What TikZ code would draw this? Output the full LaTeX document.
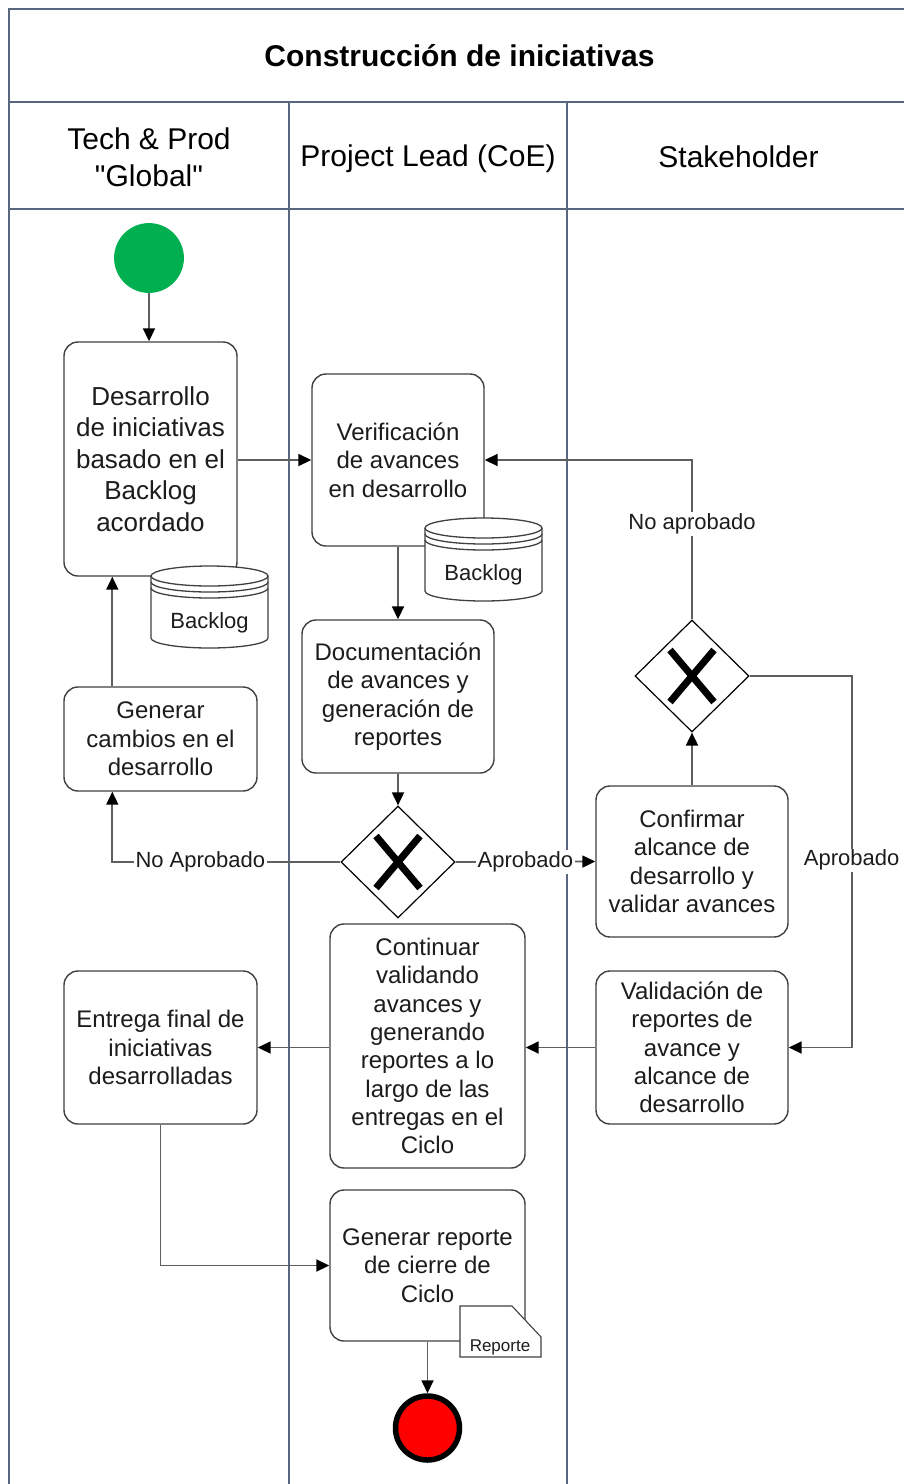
\documentclass[tikz,border=0pt]{standalone}
\usepackage{fontspec}
\setmainfont{Liberation Sans}[Ligatures=TeXOff]
\usetikzlibrary{arrows.meta,shapes.geometric,calc}

\definecolor{poolline}{RGB}{88,102,128}
\definecolor{boxline}{RGB}{64,64,64}
\definecolor{flowline}{RGB}{95,95,95}
\definecolor{txt}{RGB}{28,28,28}
\definecolor{startgreen}{RGB}{0,176,80}
\definecolor{endred}{RGB}{255,0,0}

% data store (cylinder with two extra rims): name, left, top, width, height
\newcommand\datastore[5]{%
  \draw[storeline, fill=white] (#2,#3+10) -- (#2,#3+#5-10)
    arc[start angle=180, end angle=0, x radius=#4/2, y radius=10] -- (#2+#4,#3+10);
  \draw[storeline, fill=white] (#2+#4/2,#3+10) ellipse[x radius=#4/2, y radius=10];
  \draw[storeline] (#2,#3+16) arc[start angle=180, end angle=0, x radius=#4/2, y radius=10];
  \draw[storeline] (#2,#3+22) arc[start angle=180, end angle=0, x radius=#4/2, y radius=10];
  \node[storetext] (#1) at (#2+#4/2,#3+57) {Backlog};
}

\begin{document}
\begin{tikzpicture}[x=1pt,y=-1pt,
  task/.style={draw=boxline, line width=1.4pt, rounded corners=14pt, fill=white,
    align=center, inner sep=0pt, text=txt, font=\fontsize{24}{28.3}\selectfont},
  gate/.style={diamond, draw=black, line width=1.2pt, fill=white, aspect=1,
    minimum width=114pt, minimum height=112pt, inner sep=0pt},
  xmark/.style={line width=7pt, draw=black},
  flow/.style={draw=flowline, line width=1.8pt,
    -{Triangle[length=13pt, width=12pt, color=black]}},
  lbl/.style={fill=white, inner sep=1.5pt, text=txt, font=\fontsize{22}{26}\selectfont},
  lane/.style={draw=poolline, line width=2pt},
  storeline/.style={draw=boxline, line width=1.3pt},
  storetext/.style={text=txt, font=\fontsize{22}{26}\selectfont},
  header/.style={text=black, align=center, font=\fontsize{30}{37}\selectfont},
]
\useasboundingbox (0,0) rectangle (904,1484);
\fill[white] (0,0) rectangle (904,1484);
\clip (0,0) rectangle (904,1484);

% pool and lanes
\draw[lane] (9,1490) -- (9,9) -- (915,9);
\draw[lane] (9,102) -- (915,102);
\draw[lane] (9,209) -- (915,209);
\draw[lane] (289,102) -- (289,1490);
\draw[lane] (567,102) -- (567,1490);

\node[text=black, font=\bfseries\fontsize{30}{36}\selectfont] (title) at (459.5,56) {Construcción de iniciativas};
\node[header] (hTech) at (149,157) {Tech \& Prod\\"Global"};
\node[header] (hLead) at (428,159) {Project Lead (CoE)};
\node[header] (hStake) at (738.5,157) {Stakeholder};

% events
\node[circle, fill=startgreen, draw=startgreen, line width=0.8pt, minimum size=69pt, inner sep=0pt] (start) at (149,258) {};
\node[circle, fill=endred, draw=black, line width=5.5pt, minimum size=64pt, inner sep=0pt] (end) at (427.5,1428) {};

% activities
\node[task, minimum width=173pt, minimum height=234pt, font=\fontsize{26}{31.5}\selectfont] (A) at (150.5,459)
  {Desarrollo\\de iniciativas\\basado en el\\Backlog\\acordado};
\node[task, minimum width=172pt, minimum height=172pt] (B) at (398,460)
  {Verificación\\de avances\\en desarrollo};
\node[task, minimum width=192pt, minimum height=153pt] (C) at (398,696.5)
  {Documentación\\de avances y\\generación de\\reportes};
\node[task, minimum width=193pt, minimum height=104pt] (D) at (160.5,739)
  {Generar\\cambios en el\\desarrollo};
\node[task, minimum width=192pt, minimum height=151pt] (E) at (692,861.5)
  {Confirmar\\alcance de\\desarrollo y\\validar avances};
\node[task, minimum width=192pt, minimum height=153pt] (F) at (692,1047.5)
  {Validación de\\reportes de\\avance y\\alcance de\\desarrollo};
\node[task, minimum width=195pt, minimum height=244pt] (H) at (427.5,1046)
  {Continuar\\validando\\avances y\\generando\\reportes a lo\\largo de las\\entregas en el\\Ciclo};
\node[task, minimum width=193pt, minimum height=153pt] (I) at (160.5,1047.5)
  {Entrega final de\\iniciativas\\desarrolladas};
\node[task, minimum width=195pt, minimum height=151pt] (J) at (427.5,1265.5)
  {Generar reporte\\de cierre de\\Ciclo};

% data stores
\datastore{store1}{151}{566}{117}{82}
\datastore{store2}{425}{518}{117}{83}

% report document
\draw[storeline, line width=1.1pt, fill=white] (460,1306) -- (512,1306) -- (541,1337) -- (541,1357) -- (460,1357) -- cycle;
\node[text=txt, font=\fontsize{17}{20}\selectfont] (report) at (500,1347) {Reporte};

% gateways
\node[gate] (G1) at (398,862) {};
\node[gate] (G2) at (692,676) {};
\foreach \g in {G1,G2}{
  \draw[xmark] ($(\g)+(-22,-26)$) -- ($(\g)+(22,26)$);
  \draw[xmark] ($(\g)+(-22,26)$) -- ($(\g)+(22,-26)$);
}

% sequence flows
\draw[flow] (start) -- (start |- A.north);
\draw[flow] (A.east |- B.west) -- (B.west);
\draw[flow] (B.south) -- (C.north);
\draw[flow] (C.south) -- (G1.north);
\draw[flow] (G1.west) -| ([xshift=49pt]D.south west) node[lbl, pos=0.307] {No Aprobado};
\draw[flow] ([xshift=49pt]D.north west) -- ([xshift=49pt]A.south west);
\draw[flow] (G1.east) -- (E.west) node[lbl, midway] {Aprobado};
\draw[flow] (E.north) -- (G2.south);
\draw[flow] (G2.north) |- (B.east) node[lbl, pos=0.3] {No aprobado};
\draw[flow] (G2.east) -- ++(102,0) |- (F.east) node[lbl, pos=0.248] {Aprobado};
\draw[flow] (F.west) -- (F.west -| H.east);
\draw[flow] (H.west |- I.east) -- (I.east);
\draw[flow] (I.south) |- (J.west);
\draw[flow] (J.south) -- (end);
\end{tikzpicture}
\end{document}
